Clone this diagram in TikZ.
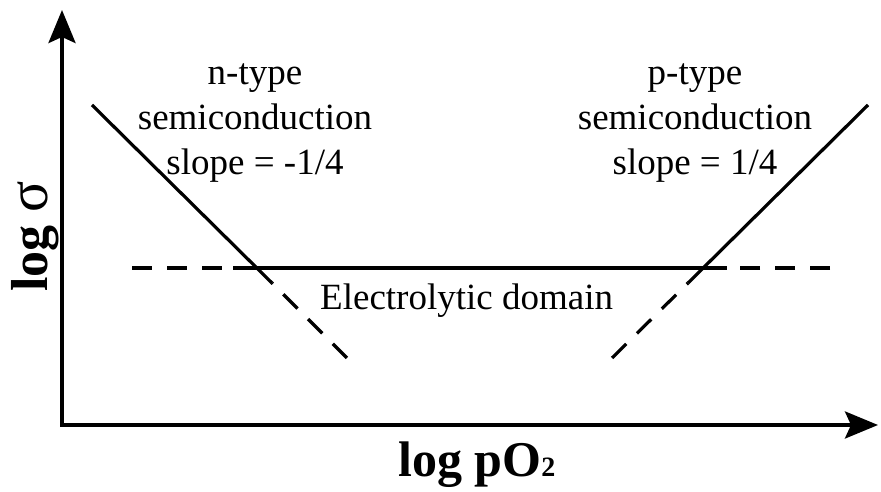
\documentclass[tikz,border=0pt]{standalone}
\usepackage{fontspec}
\setmainfont{Liberation Serif}
\usetikzlibrary{arrows.meta}

\tikzset{
  axis/.style={line width=3.8pt,-{Stealth[length=33pt,width=27pt,inset=6pt]}},
  trend/.style={line width=3.2pt},
  extrap/.style={line width=3.2pt,dash pattern=on 20pt off 15pt},
  regime/.style={font=\fontsize{37}{45}\selectfont,align=center,inner sep=0pt},
}

\begin{document}
\begin{tikzpicture}[x=1pt,y=1pt]
\useasboundingbox (0,0) rectangle (881,492);

%%% Axes
\coordinate (origin) at (62,67);
\coordinate (ytop) at (62,482);
\coordinate (xend) at (878,67);
\draw[axis] (origin |- 0,65) -- (ytop);
\draw[axis] (60,67) -- (xend);

\node[rotate=90,anchor=base west,inner sep=0pt,font=\fontsize{52}{52}\selectfont\bfseries] (ylabel) at (47,200) {log {\mdseries\fontsize{58}{58}\selectfont σ}};
\node[anchor=base west,inner sep=0pt,font=\fontsize{50}{50}\selectfont\bfseries] (xlabel) at (398,15) {log pO{\fontsize{28}{28}\selectfont 2}};

%%% Electrolytic plateau
\coordinate (hleft) at (132,224);
\coordinate (hsolidl) at (233,224);
\coordinate (hsolidr) at (727,224);
\coordinate (hright) at (830,224);
\draw[extrap] (hleft) -- (hsolidl);
\draw[trend] (hsolidl) -- (hsolidr);
\draw[extrap] (hright) -- (hsolidr);

%%% n-type branch
\coordinate (nstart) at (92,387);
\coordinate (nsolid) at (272,209);
\coordinate (nend) at (347,134);
\draw[trend] (nstart) -- (nsolid);
\draw[extrap] (nend) -- (nsolid);

%%% p-type branch
\coordinate (pstart) at (868,387);
\coordinate (psolid) at (688,209);
\coordinate (pend) at (612,134);
\draw[trend] (pstart) -- (psolid);
\draw[extrap] (pend) -- (psolid);

%%% Labels
\node[regime,anchor=base] (nlabel) at (255,317) {n-type\\semiconduction\\slope = -1/4};
\node[regime,anchor=base] (plabel) at (695,317) {p-type\\semiconduction\\slope = 1/4};
\node[regime,anchor=base west] (elabel) at (320,182) {Electrolytic domain};
\end{tikzpicture}
\end{document}
